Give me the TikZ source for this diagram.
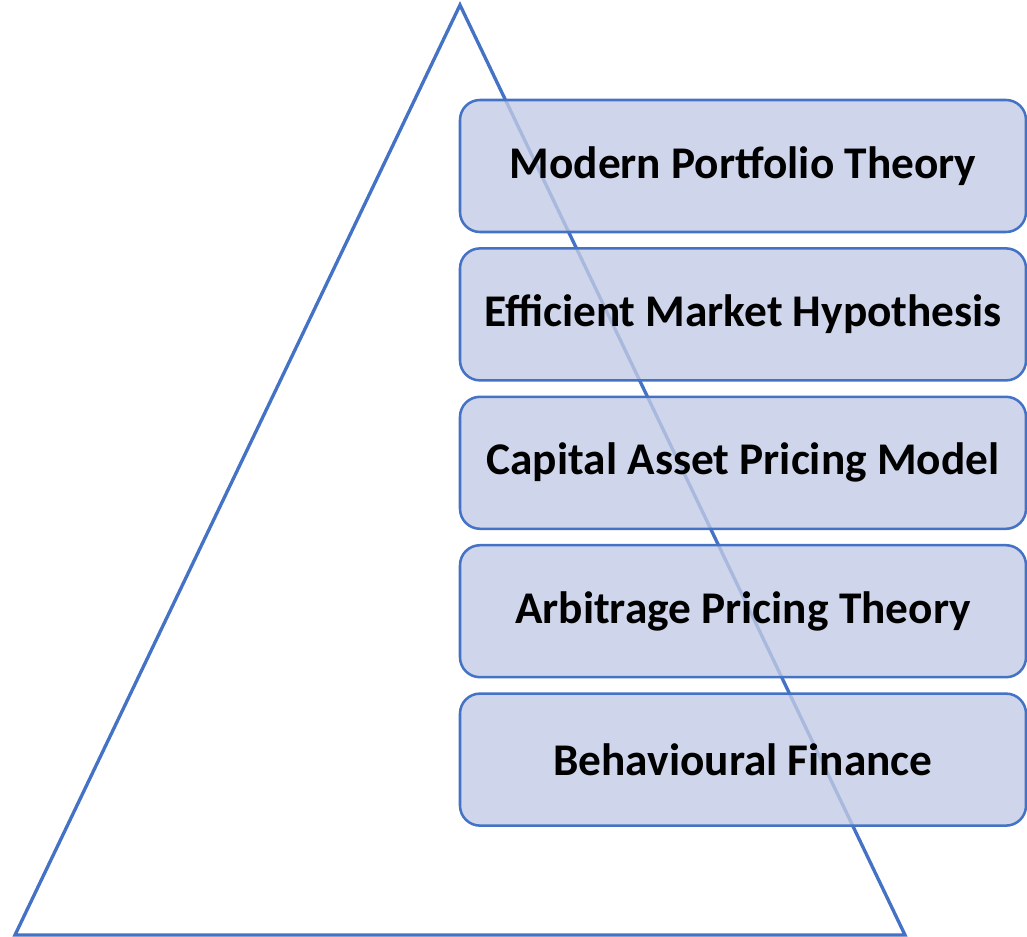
\documentclass[tikz,border=0pt]{standalone}
\usepackage{fontspec}
\setmainfont{Carlito}
\usepackage{tikz}
\usetikzlibrary{positioning}
\definecolor{officeblue}{RGB}{68,114,196}
\definecolor{boxfill}{RGB}{195,203,229}
\tikzset{
theory/.style={
  rectangle,
  draw=officeblue,
  line width=1.9pt,
  fill=boxfill,
  fill opacity=0.8,
  text opacity=1,
  rounded corners=15pt,
  minimum width=424.5pt,
  minimum height=99pt,
  font=\fontsize{34}{40}\selectfont\bfseries},
pyramid/.style={draw=officeblue, line width=2.5pt, line join=miter}
}
\begin{document}
\begin{tikzpicture}[x=0.75pt,y=-0.75pt]
    \useasboundingbox (0,0) rectangle (1027,937);
    \coordinate (apex) at (460,5);
    \coordinate (left) at (15,935);
    \coordinate (right) at (905,935);
    \draw [pyramid] (apex) -- (left) -- (right) -- cycle;
    \node [theory] (mpt) at (743,166) {Modern Portfolio Theory};
    \node [theory, below=10.4pt of mpt] (emh) {Efficient Market Hypothesis};
    \node [theory, below=10.4pt of emh] (capm) {Capital Asset Pricing Model};
    \node [theory, below=10.4pt of capm] (apt) {Arbitrage Pricing Theory};
    \node [theory, below=10.4pt of apt] (behav) {Behavioural Finance};
\end{tikzpicture}
\end{document}
